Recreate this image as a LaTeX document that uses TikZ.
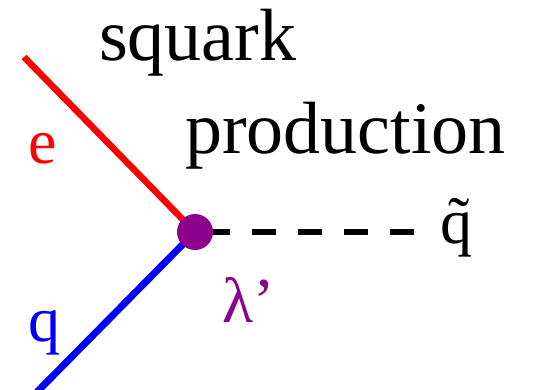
\documentclass[tikz,border=0pt]{standalone}
\usepackage{fontspec}
\setmainfont{Liberation Serif}
\definecolor{vpurple}{RGB}{140,0,140}

\begin{document}
\begin{tikzpicture}[x=1pt,y=-1pt,
  vertex/.style={circle,fill=vpurple,minimum size=36pt,inner sep=0pt},
  lbl/.style={inner sep=0pt,anchor=base west,font=\fontsize{64}{70}\selectfont},
  title/.style={inner sep=0pt,anchor=base west,font=\fontsize{74}{80}\selectfont}]

\useasboundingbox (0,0) rectangle (541,389);

\coordinate (vtx) at (195,232);
\coordinate (eend) at (24,57);
\coordinate (qend) at (37,392);
\coordinate (sqend) at (414,232);

\draw[red,line width=6.5pt] (eend) -- (vtx);   % e
\draw[blue,line width=7pt] (qend) -- (vtx);    % q

\node[vertex] (v) at (vtx) {};
\draw[line width=6pt,dash pattern=on 24pt off 22pt] (sqend) -- (v);

\node[lbl,red] (e) at (28,163) {e};
\node[lbl,blue] (q) at (28,341) {q};
\node[lbl] (sq) at (440,243) {\~{q}};
\node[lbl,vpurple] (lam) at (222,322) {λ’};

\node[title] (t1) at (99,60) {squark};
\node[title] (t2) at (185,153) {production};

\end{tikzpicture}
\end{document}
